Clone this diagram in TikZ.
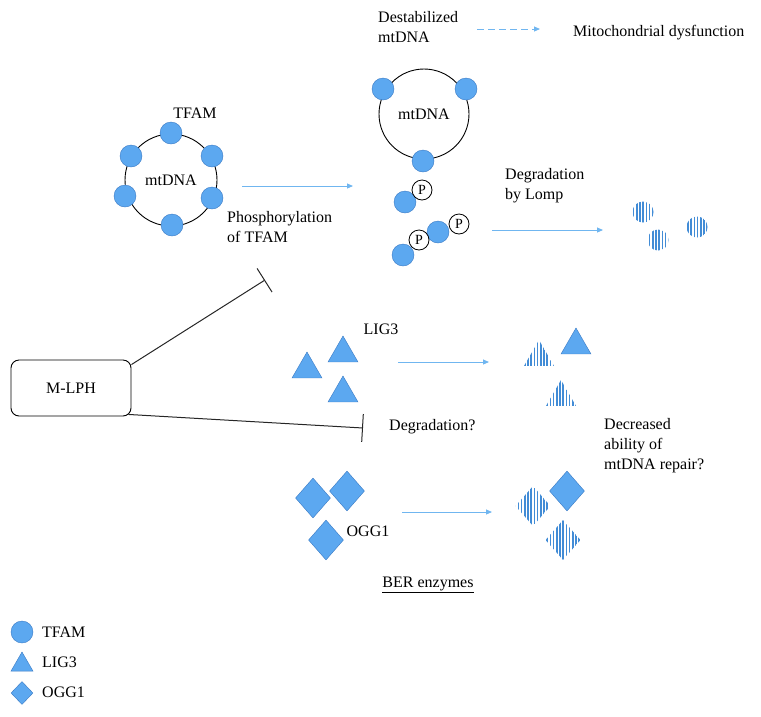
\documentclass[tikz,border=0pt]{standalone}
\usepackage{fontspec}
\setmainfont{Liberation Serif}
\usepackage{tikz}
\usetikzlibrary{shapes,arrows.meta,calc,patterns.meta}
\definecolor{beadcolor}{RGB}{92,168,240}
\definecolor{beadedge}{RGB}{58,122,196}
\definecolor{arrowcolor}{RGB}{112,182,240}
\definecolor{stripecolor}{RGB}{66,140,214}

\begin{document}
\begin{tikzpicture}[x=1pt,y=-1pt,every node/.style={font=\fontsize{16}{20}\selectfont}]
  %%Create the styles for the beads, shapes and arrows
  \tikzset{tfam shape/.style={circle,minimum size=22pt,inner sep=0pt}}
  \tikzset{lig shape/.style={regular polygon,regular polygon sides=3,minimum size=34.6pt,inner sep=0pt}}
  \tikzset{ogg shape/.style={diamond,minimum width=35pt,minimum height=40pt,inner sep=0pt}}
  \tikzset{solid blue/.style={fill=beadcolor,draw=beadedge,thin}}
  \tikzset{stripes/.style={pattern={Lines[angle=90,distance=3.2pt,line width=1.5pt]},pattern color=stripecolor}}
  \tikzset{phospho/.style={circle,fill=white,draw,line width=0.8pt,minimum size=20pt,inner sep=0pt,font=\fontsize{14}{14}\selectfont}}
  \tikzset{blue arrow/.style={draw=arrowcolor,line width=0.9pt,-{Triangle[length=6pt,width=5pt]}}}
  \tikzset{inhibit/.style={draw=black!85,line width=1pt,-{Bar[width=28pt,line width=1pt]}}}
  \tikzstyle{caption} = [align=left, anchor=west, inner sep=0pt]
  \useasboundingbox (0,0) rectangle (761,716);
  %%Coordinates for the free arrows
  \path (242,186) coordinate (ph1) ++(111,0) coordinate (ph2);
  \path (477,29) coordinate (ds1) ++(63,0) coordinate (ds2);
  \path (492,230) coordinate (lo1) ++(111,0) coordinate (lo2);
  \path (398,362) coordinate (lg1) ++(91,0) coordinate (lg2);
  \path (402,512) coordinate (og1) ++(90,0) coordinate (og2);
  \path (265,280) coordinate (in1);
  \path (363,428) coordinate (in2);
  %%mtDNA with TFAM
  \node[circle,draw,line width=0.9pt,minimum size=92pt] (ring1) at (171,180) {mtDNA};
  \foreach \x/\y [count=\i] in {171/133,212/156,212/198,172/225,125/196,131/156}{
    \node[tfam shape,solid blue] (b1-\i) at (\x,\y) {};
  }
  \node (tfam) at (195,113) {TFAM};
  %%Destabilized mtDNA
  \node[circle,draw,line width=0.9pt,minimum size=90pt] (ring2) at (424,114) {mtDNA};
  \foreach \x/\y [count=\i] in {383/89,466/89,423/161}{
    \node[tfam shape,solid blue] (b2-\i) at (\x,\y) {};
  }
  %%Phosphorylated TFAM
  \foreach \x/\y [count=\i] in {405/202,403/255,438/232}{
    \node[tfam shape,solid blue] (pb\i) at (\x,\y) {};
  }
  \foreach \x/\y [count=\i] in {422/190,419/240,459/224}{
    \node[phospho] (p\i) at (\x,\y) {P};
  }
  %%Degraded TFAM
  \foreach \x/\y [count=\i] in {643/212,658/240,697/227}{
    \node[tfam shape,minimum size=21pt,stripes] (db\i) at (\x,\y) {};
  }
  %%LIG3
  \foreach \x/\y [count=\i] in {307/369.3,343/353.3,343/393.3}{
    \node[lig shape,solid blue] (t\i) at (\x,\y) {};
  }
  \node[lig shape,stripes] (dt1) at (539,357.3) {};
  \node[lig shape,solid blue] (t4) at (576,345.3) {};
  \node[lig shape,stripes] (dt2) at (561,397.3) {};
  \node (lig) at (381,329) {LIG3};
  %%OGG1
  \foreach \x/\y [count=\i] in {313/498,347/491,326/540}{
    \node[ogg shape,solid blue] (d\i) at (\x,\y) {};
  }
  \node[ogg shape,stripes] (dd1) at (533,506) {};
  \node[ogg shape,solid blue] (d4) at (567,491) {};
  \node[ogg shape,stripes] (dd2) at (563,540) {};
  \node (ogg) at (368,531) {OGG1};
  %%M-LPH
  \node[draw,line width=0.9pt,rounded corners=8pt,minimum width=120pt,minimum height=56pt] (mlph) at (71,388) {M-LPH};
  %%Texts
  \node[caption] (phos) at (227,227) {Phosphorylation\\of TFAM};
  \node[caption] (dest) at (378,27) {Destabilized\\mtDNA};
  \node[caption] (mito) at (573,33) {Mitochondrial dysfunction};
  \node[caption] (lomp) at (505,186) {Degradation\\by Lomp};
  \node[caption] (degr) at (389,427) {Degradation?};
  \node[caption] (decr) at (604,446) {Decreased\\ability of\\mtDNA repair?};
  \node (ber) at (428,585) {\underline{BER enzymes}};
  %%Legend
  \node[tfam shape,solid blue] (l1) at (22,632) {};
  \node[lig shape,solid blue,minimum size=25.4pt] (l2) at (22,664.7) {};
  \node[ogg shape,solid blue,minimum width=22pt,minimum height=23pt] (l3) at (22,693) {};
  \node[caption] (lt1) at (42,632) {TFAM};
  \node[caption] (lt2) at (42,662) {LIG3};
  \node[caption] (lt3) at (42,692) {OGG1};
  %%Drawing the arrows
  \path[blue arrow] (ph1) -- (ph2);
  \path[blue arrow,dash pattern=on 7pt off 4pt] (ds1) -- (ds2);
  \path[blue arrow] (lo1) -- (lo2);
  \path[blue arrow] (lg1) -- (lg2);
  \path[blue arrow] (og1) -- (og2);
  \path[inhibit] (mlph.north east) ++(0,5) -- (in1);
  \path[inhibit] (mlph.south east) ++(-3,-2) -- (in2);
\end{tikzpicture}
\end{document}
